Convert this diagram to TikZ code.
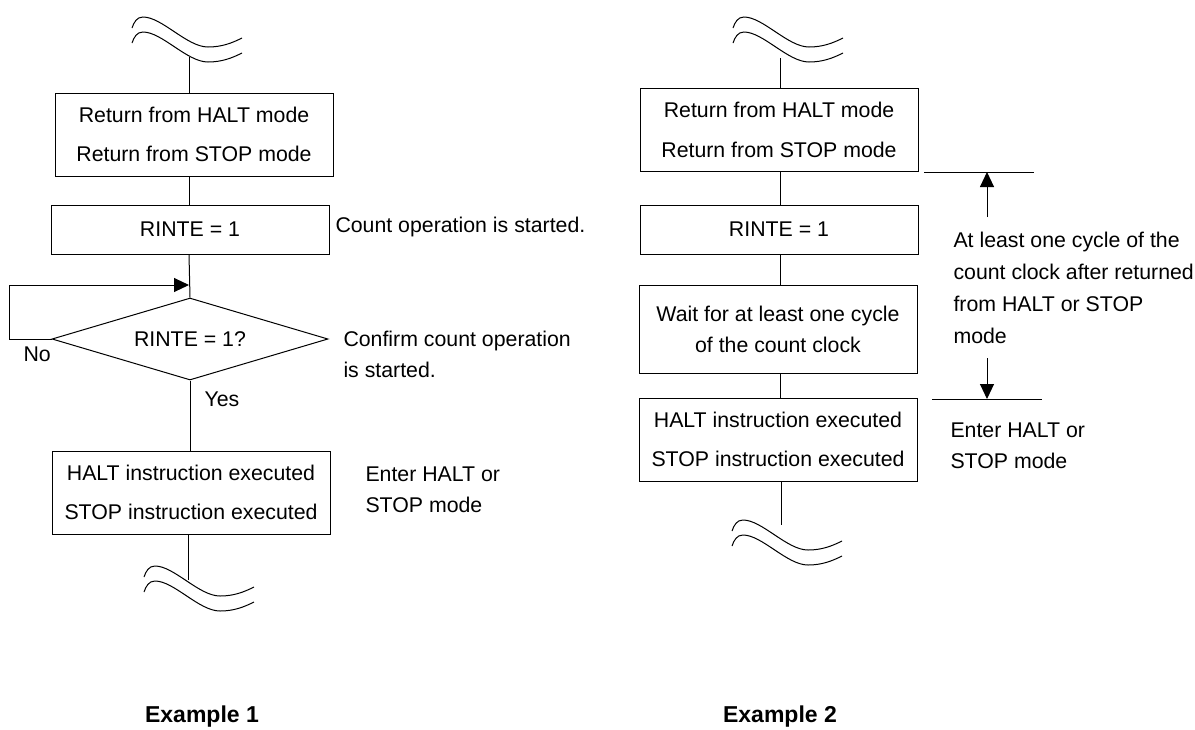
\documentclass[tikz,border=0pt]{standalone}
\usepackage{fontspec}
\setmainfont{Liberation Sans}
\usetikzlibrary{shapes.geometric,arrows.meta}
\begin{document}
\begin{tikzpicture}[x=1pt,y=-1pt, line width=1pt,
  box/.style={draw, inner sep=0pt, minimum width=278pt, align=center, font=\fontsize{21.3}{39.5}\selectfont},
  decision/.style={draw, diamond, inner sep=0pt, aspect=3.366, minimum width=276pt, minimum height=82pt, font=\fontsize{21.3}{25}\selectfont},
  note/.style={inner sep=0pt, align=left, font=\fontsize{21.3}{31}\selectfont},
  title/.style={inner sep=0pt, font=\fontsize{23}{27}\selectfont\bfseries},
  tip/.style={-{Triangle[length=15pt,width=14pt]}},
  tilde/.pic={
    \draw (0,0) .. controls (2,-6) and (5,-11) .. (11,-11) .. controls (30,-11) and (55,19) .. (76,19) .. controls (90,19) and (100,15) .. (110,10);
    \draw (0,15) .. controls (2,9) and (5,4) .. (11,4) .. controls (30,4) and (55,34) .. (76,34) .. controls (90,34) and (100,30) .. (110,25);
  }
]
\useasboundingbox (0,0) rectangle (1195,729);

% ---------- Example 1 ----------
\coordinate (axL) at (189,0);
\pic at (132,28) {tilde};
\coordinate (tL1) at (189,57);
\node[box, minimum height=83pt] (L1) at (194,134.5) {Return from HALT mode\\Return from STOP mode};
\node[box, minimum height=49pt] (L2) at (190,229.5) {RINTE = 1};
\node[decision] (L3) at (190,339) {RINTE = 1?};
\node[box, minimum height=83pt] (L4) at (191,492.5) {HALT instruction executed\\STOP instruction executed};
\pic at (144,577) {tilde};
\coordinate (tL2) at (188,580);
\coordinate (loopTop) at (189,285);

\draw (tL1) -- (L1.north -| tL1);
\draw (L1.south -| axL) -- (L2.north -| axL);
\draw (L2.south -| axL) -- (L3.north);
\draw[tip] (L3.west) -- ++(-42,0) |- (loopTop);
\draw (L3.south) -- (L4.north -| L3.south);
\draw (L4.south -| tL2) -- (tL2);

\node[note, anchor=base west] (nL1) at (335,232) {Count operation is started.};
\node[note, anchor=north west] (nL2) at (343,330.7) {Confirm count operation\\is started.};
\node[note, anchor=north west] (nL3) at (365,466.7) {Enter HALT or\\STOP mode};
\node[note, anchor=base west] (no) at (23,361) {No};
\node[note, anchor=base west] (yes) at (204,406) {Yes};
\node[title, anchor=base] (ex1) at (202,722) {Example 1};

% ---------- Example 2 ----------
\coordinate (axR) at (780,0);
\pic at (733,28) {tilde};
\coordinate (tR1) at (780,58);
\node[box, minimum height=83pt] (R1) at (779,130) {Return from HALT mode\\Return from STOP mode};
\node[box, minimum height=49pt] (R2) at (779,229.5) {RINTE = 1};
\node[box, minimum height=88pt, font=\fontsize{21.3}{31}\selectfont] (R3) at (778,329) {Wait for at least one cycle\\of the count clock};
\node[box, minimum height=83pt] (R4) at (778,439.5) {HALT instruction executed\\STOP instruction executed};
\pic at (732,531) {tilde};
\coordinate (tR2) at (781,525);

\draw (tR1) -- (R1.north -| tR1);
\draw (R1.south -| axR) -- (R2.north -| axR);
\draw (R2.south -| axR) -- (R3.north -| axR);
\draw (R3.south -| axR) -- (R4.north -| axR);
\draw (R4.south -| tR2) -- (tR2);

% dimension marks
\coordinate (d1a) at (924,172);
\coordinate (d1b) at (1034,172);
\coordinate (a1) at (987,217);
\coordinate (d2a) at (932,399);
\coordinate (d2b) at (1042,399);
\coordinate (a2) at (987,358);
\draw (d1a) -- (d1b);
\draw[tip] (a1) -- (a1 |- d1a);
\draw (d2a) -- (d2b);
\draw[tip] (a2) -- (a2 |- d2a);

\node[note, anchor=north west, font=\fontsize{21.3}{32}\selectfont] (nR1) at (953,231.7) {At least one cycle of the\\count clock after returned\\from HALT or STOP\\mode};
\node[note, anchor=north west] (nR2) at (950,422.7) {Enter HALT or\\STOP mode};
\node[title, anchor=base] (ex2) at (780,722) {Example 2};
\end{tikzpicture}
\end{document}
